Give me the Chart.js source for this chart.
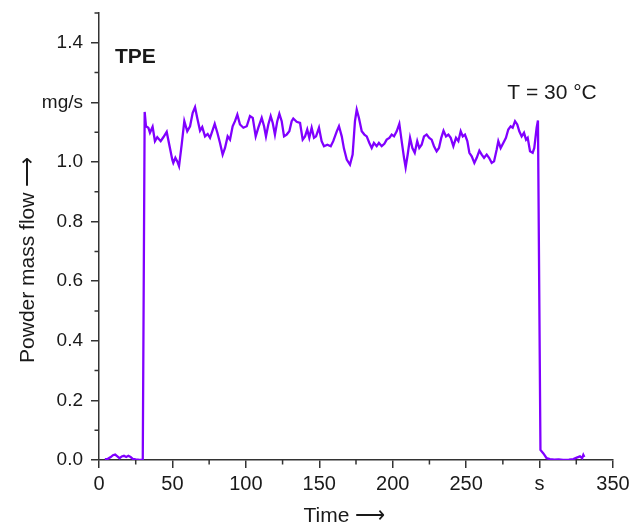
<!DOCTYPE html>
<html>
<head>
<meta charset="utf-8">
<script src="https://cdn.jsdelivr.net/npm/chart.js@4.4.1/dist/chart.umd.min.js"></script>
<style>
  html, body { margin: 0; padding: 0; background: #fff; }
</style>
</head>
<body>
<canvas id="chart" width="638" height="527"></canvas>
<script>
// Powder mass flow of TPE at 30 °C (time in s, flow in mg/s)
const time = [
  4, 6, 8, 9.5, 11, 12.5, 14, 15.5, 17, 18.5, 20, 21.5, 23, 25, 27, 29.8,
  31.1, 32, 33.6, 34.7, 36.5, 38.1, 39.7, 42, 43.8, 46.1, 48.3, 49.9, 50.6, 52, 53.3, 54.5,
  56.3, 58.1, 60.1, 62, 63.8, 65.4, 66.9, 68.8, 70.3, 72.2, 74, 75.6, 77.1, 78.8, 80.6, 82.4,
  84.2, 85.8, 87.6, 89.2, 91, 92.6, 94.2, 96, 98.3, 100.6, 102.8, 104.7, 106.7, 108.5, 110.8,
  112.4, 113.7, 115.3, 116.9, 118.3, 119.8, 121.4, 122.8, 124.4, 126, 127.8, 129.6, 131.2,
  132.3, 134.6, 136.9, 138.7, 140.3, 141.8, 143.2, 144.8, 146.4, 147.8, 149.8, 151.6, 153.2,
  155.5, 157.8, 159.5, 161.9, 163.4, 165.3, 166.8, 168.7, 170.9, 172.7, 174.3, 175.5, 177,
  178.9, 180.7, 182.3, 184.1, 185.7, 187.2, 189.1, 190.6, 192.5, 194.3, 195.9, 197.7, 199.3,
  200.9, 202.7, 204.5, 206.1, 207.7, 208.8, 210.2, 211.8, 213.4, 215, 216.7, 218.1, 219.7,
  221.3, 223.1, 224.9, 226.5, 228.1, 229.9, 231.5, 233, 234.6, 236.3, 237.9, 239.5, 241.3,
  243.1, 244.7, 246.3, 247.7, 249.2, 250.8, 252.2, 253.8, 255.6, 257.2, 259, 260.6, 262.2,
  264, 265.6, 267.4, 269, 270.8, 271.9, 273.5, 275.3, 277.1, 278.7, 280.3, 281.7, 283.3,
  284.8, 286.2, 287.8, 289.4, 290.8, 291.9, 293.5, 295.3, 296.4, 298, 298.9,
  300.6, 302.6, 304.8, 307, 310, 313, 316, 320, 323, 325.3, 327.5, 329, 329.8, 330.5
];
const flow = [
  0.003, 0.004, 0.01, 0.016, 0.018, 0.012, 0.006, 0.012, 0.014, 0.01, 0.014, 0.01, 0.004, 0.002, 0.001, 0,
  1.168, 1.12, 1.115, 1.098, 1.118, 1.07, 1.083, 1.07, 1.083, 1.101, 1.047, 1.008, 0.997, 1.014, 1.002, 0.986,
  1.058, 1.137, 1.103, 1.12, 1.165, 1.184, 1.148, 1.105, 1.117, 1.086, 1.094, 1.081, 1.103, 1.128, 1.098, 1.064,
  1.025, 1.047, 1.086, 1.075, 1.12, 1.137, 1.159, 1.126, 1.115, 1.12, 1.154, 1.148, 1.086, 1.115, 1.148,
  1.12, 1.086, 1.126, 1.154, 1.131, 1.092, 1.137, 1.162, 1.137, 1.086, 1.092, 1.103, 1.137,
  1.146, 1.135, 1.131, 1.075, 1.086, 1.109, 1.081, 1.115, 1.081, 1.086, 1.115, 1.07, 1.053,
  1.058, 1.053, 1.07, 1.103, 1.12, 1.086, 1.045, 1.008, 0.991, 1.025, 1.137, 1.176, 1.148,
  1.103, 1.092, 1.086, 1.064, 1.047, 1.064, 1.053, 1.064, 1.053, 1.061, 1.075, 1.081, 1.092,
  1.086, 1.103, 1.128, 1.07, 1.014, 0.982, 1.025, 1.081, 1.047, 1.031, 1.07, 1.047, 1.058,
  1.086, 1.092, 1.081, 1.075, 1.053, 1.036, 1.047, 1.08, 1.105, 1.086, 1.092, 1.081, 1.053,
  1.081, 1.07, 1.103, 1.086, 1.092, 1.07, 1.031, 1.019, 0.997, 1.014, 1.038, 1.025, 1.014,
  1.025, 1.014, 0.997, 1.002, 1.042, 1.07, 1.047, 1.064, 1.081, 1.109, 1.12, 1.115, 1.137,
  1.126, 1.103, 1.086, 1.098, 1.075, 1.081, 1.036, 1.031, 1.047, 1.115, 1.139,
  0.034, 0.022, 0.006, 0.003, 0.001, 0.002, 0, 0.001, 0.003, 0.008, 0.012, 0.006, 0.017, 0.01
];

const xTickLabels = ['0', '50', '100', '150', '200', '250', 's', '350'];
const yTickLabels = ['0.0', '0.2', '0.4', '0.6', '0.8', '1.0', 'mg/s', '1.4'];
const xMinor = [25, 75, 125, 175, 225, 275, 325];
const yMinor = [0.1, 0.3, 0.5, 0.7, 0.9, 1.1, 1.3, 1.5];

const notes = [
  { text: 'TPE', x: 10.9, y: 1.35, font: 'bold 21px "Liberation Sans", Arial, sans-serif' },
  { text: 'T = 30 °C', x: 278, y: 1.232, font: '21px "Liberation Sans", Arial, sans-serif' },
];

const ink = '#1a1a1a';
const axisColor = '#333';
const nb = '\u00a0';

Chart.defaults.font.family = '"Liberation Sans", Arial, sans-serif';
Chart.defaults.color = ink;

// small outward ticks between the labelled ones
const minorTicks = {
  id: 'minorTicks',
  afterDraw(chart) {
    const { ctx, scales: { x, y } } = chart;
    ctx.save();
    ctx.strokeStyle = axisColor;
    ctx.lineWidth = 1.5;
    ctx.beginPath();
    yMinor.forEach((v) => {
      const py = y.getPixelForValue(v);
      ctx.moveTo(x.left - 4.5, py);
      ctx.lineTo(x.left, py);
    });
    xMinor.forEach((v) => {
      const px = x.getPixelForValue(v);
      ctx.moveTo(px, y.bottom);
      ctx.lineTo(px, y.bottom + 4.5);
    });
    ctx.stroke();
    ctx.restore();
  },
};

const textNotes = {
  id: 'textNotes',
  afterDatasetsDraw(chart) {
    const { ctx, scales: { x, y } } = chart;
    ctx.save();
    ctx.fillStyle = ink;
    ctx.textAlign = 'left';
    ctx.textBaseline = 'middle';
    notes.forEach((n) => {
      ctx.font = n.font;
      ctx.fillText(n.text, x.getPixelForValue(n.x), y.getPixelForValue(n.y));
    });
    ctx.restore();
  },
};

new Chart(document.getElementById('chart'), {
  type: 'line',
  data: {
    datasets: [
      {
        label: 'TPE',
        data: time.map((t, i) => ({ x: t, y: flow[i] })),
        borderColor: '#8000ff',
        borderWidth: 2.3,
        pointRadius: 0,
        tension: 0,
      },
    ],
  },
  options: {
    responsive: false,
    animation: false,
    layout: { padding: { top: 13, right: 25, left: 0, bottom: 0 } },
    plugins: { legend: { display: false }, tooltip: { enabled: false } },
    scales: {
      x: {
        type: 'linear',
        min: 0,
        max: 350,
        afterFit: (s) => { s.height = 67; },
        border: { color: axisColor, width: 1.5 },
        grid: { drawOnChartArea: false, drawTicks: true, tickLength: 8, color: axisColor, lineWidth: 1.5 },
        ticks: {
          stepSize: 50,
          padding: 4,
          maxRotation: 0,
          font: { size: 20 },
          callback: (v, i) => xTickLabels[i],
        },
        title: {
          display: true,
          text: 'Time ⟶' + nb.repeat(4),
          font: { size: 21, lineHeight: 1 },
          padding: { top: 0, bottom: 0 },
        },
      },
      y: {
        min: 0,
        max: 1.5,
        afterFit: (s) => {
          s.width = 99;
          s.paddingTop = 0;
          s.paddingBottom = 0;
        },
        border: { color: axisColor, width: 1.5 },
        grid: { drawOnChartArea: false, drawTicks: true, tickLength: 8, color: axisColor, lineWidth: 1.5 },
        ticks: {
          stepSize: 0.2,
          includeBounds: false,
          padding: 8,
          font: { size: 19 },
          callback: (v, i) => yTickLabels[i],
        },
        title: {
          display: true,
          text: 'Powder mass flow ⟶' + nb.repeat(8),
          font: { size: 21, lineHeight: 1 },
          padding: { top: 18, bottom: 0 },
        },
      },
    },
  },
  plugins: [minorTicks, textNotes],
});
</script>
</body>
</html>
